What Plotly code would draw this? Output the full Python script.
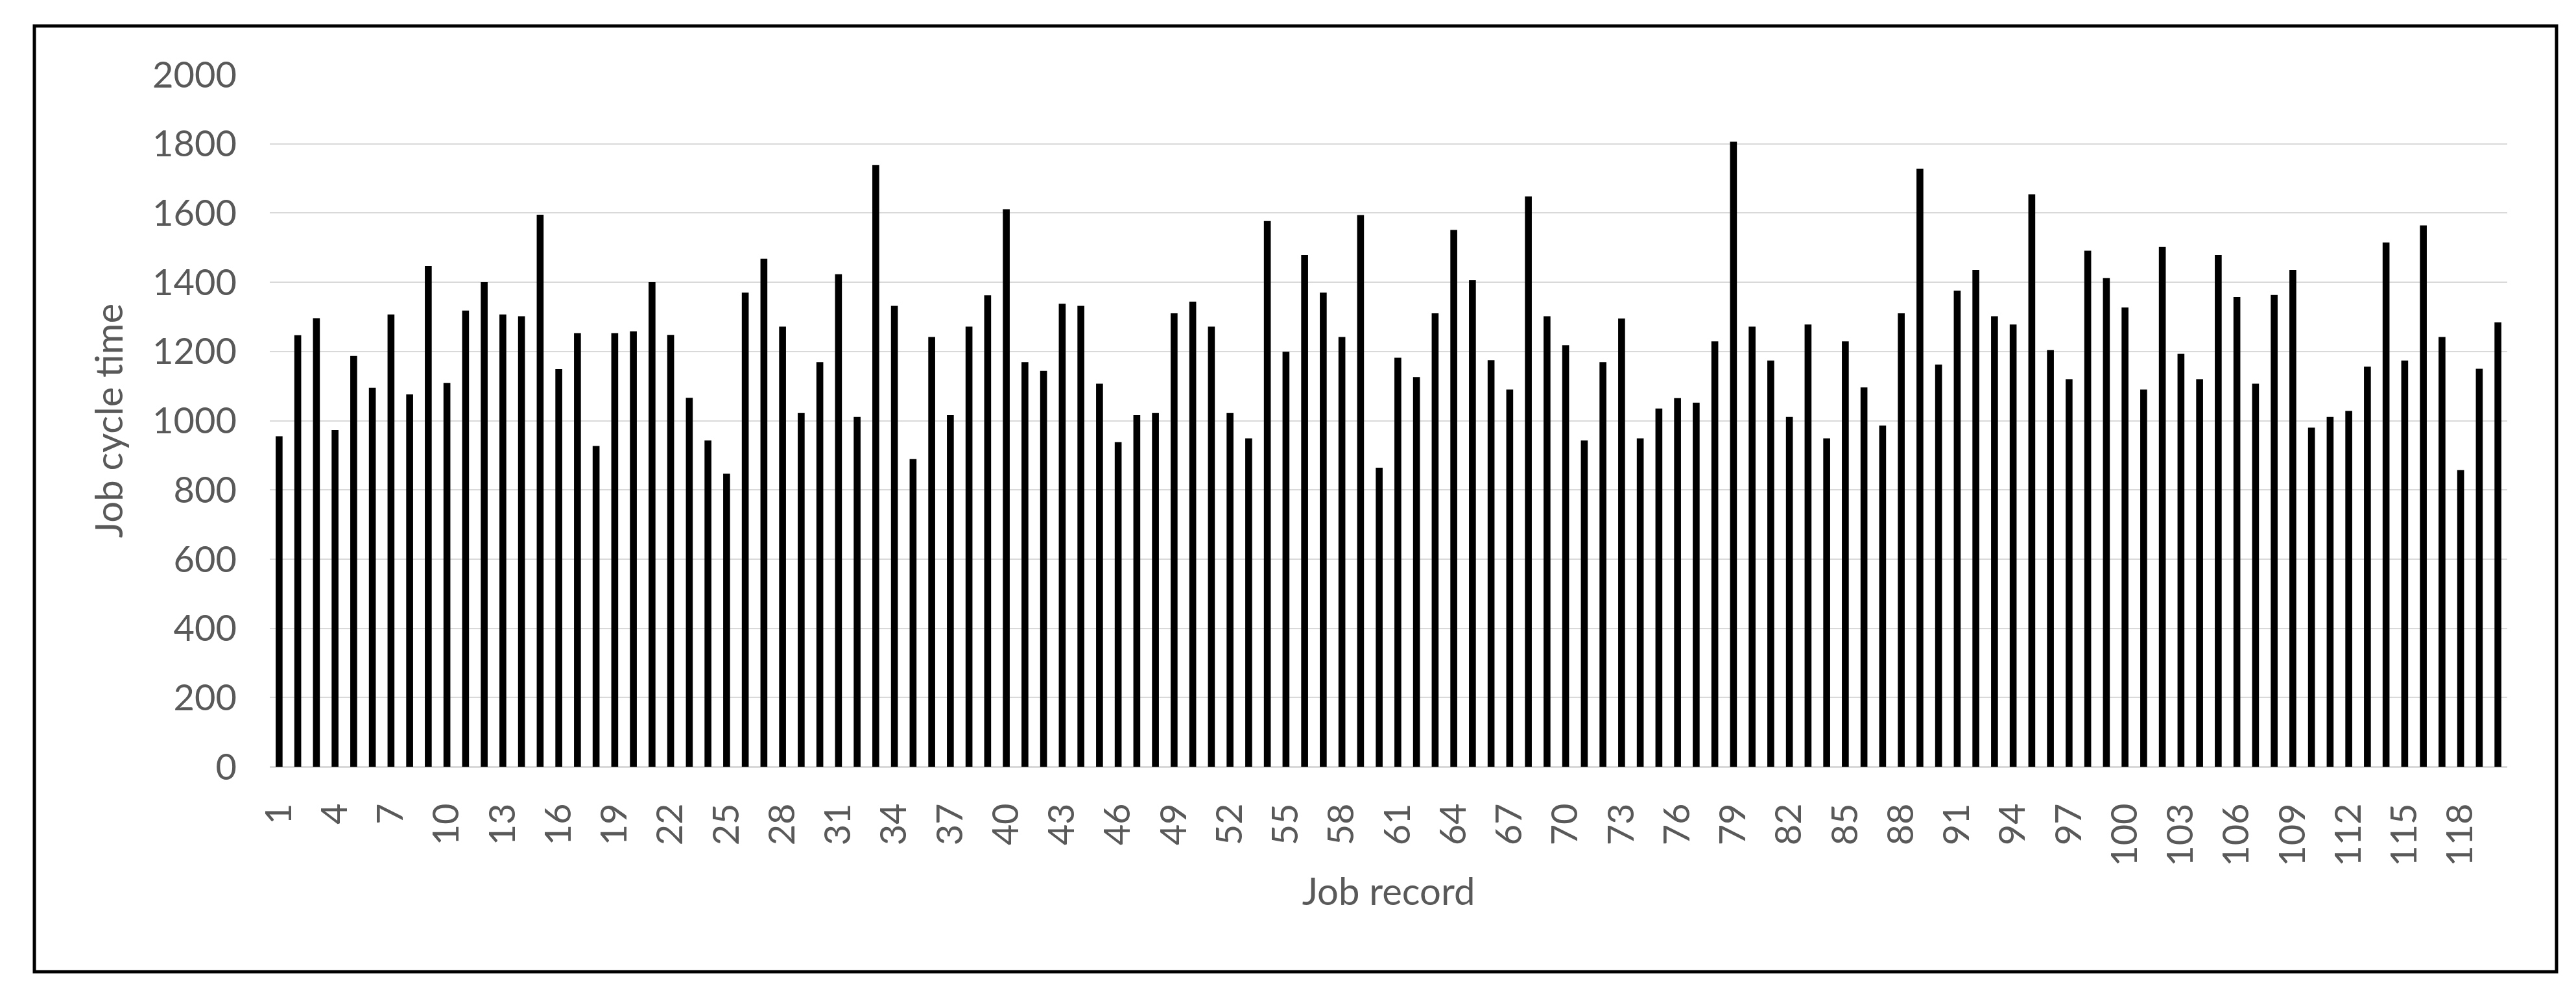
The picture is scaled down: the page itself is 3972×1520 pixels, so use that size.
import plotly.graph_objects as go

# Job cycle time per job record
job_records = list(range(1, 121))
cycle_times = [
    955, 1247, 1296, 973, 1187, 1095, 1307, 1076, 1447, 1109,
    1318, 1400, 1307, 1302, 1595, 1149, 1253, 927, 1253, 1258,
    1400, 1248, 1066, 943, 847, 1370, 1468, 1272, 1022, 1169,
    1423, 1011, 1739, 1332, 889, 1242, 1016, 1272, 1362, 1611,
    1169, 1144, 1338, 1332, 1107, 938, 1016, 1022, 1310, 1344,
    1272, 1022, 949, 1577, 1199, 1479, 1370, 1242, 1594, 864,
    1182, 1126, 1310, 1551, 1406, 1175, 1090, 1648, 1302, 1218,
    943, 1169, 1295, 949, 1035, 1065, 1052, 1229, 1806, 1272,
    1174, 1011, 1278, 949, 1229, 1096, 986, 1310, 1728, 1162,
    1376, 1436, 1302, 1278, 1654, 1204, 1120, 1491, 1412, 1327,
    1090, 1502, 1193, 1120, 1479, 1357, 1107, 1363, 1436, 980,
    1011, 1028, 1156, 1515, 1174, 1564, 1242, 857, 1150, 1284,
]
tick_records = job_records[::3]
y_ticks = [0, 200, 400, 600, 800, 1000, 1200, 1400, 1600, 1800, 2000]

W, H = 3972, 1520
# plot area in pixels
PL, PR, PT, PB = 408, 3858, 107, 1174
FONT = "Lato, Calibri, Liberation Sans, sans-serif"
GREY = "#595959"

fig = go.Figure()
fig.add_trace(go.Bar(
    x=[str(r) for r in job_records],
    y=cycle_times,
    marker=dict(color="black", line=dict(width=0)),
    showlegend=False,
))

# outer frame around the whole chart, converted from pixels to paper coords
fx0, fx1, fy0, fy1 = 45, 3934, 32, 1490
pw, ph = PR - PL, PB - PT
fig.add_shape(
    type="rect", xref="paper", yref="paper",
    x0=(fx0 - PL) / pw, x1=(fx1 - PL) / pw,
    y0=(PB - fy1) / ph, y1=(PB - fy0) / ph,
    line=dict(color="black", width=5),
    fillcolor="rgba(0,0,0,0)",
)

fig.update_layout(
    width=W, height=H,
    margin=dict(l=PL, r=W - PR, t=PT, b=H - PB, pad=0),
    paper_bgcolor="white",
    plot_bgcolor="white",
    bargap=0.63,
    font=dict(family=FONT, size=56, color=GREY),
    xaxis=dict(
        type="category",
        tickmode="array",
        tickvals=[str(r) for r in tick_records],
        ticktext=[str(r) for r in tick_records],
        tickangle=-90,
        ticks="",
        ticklabelstandoff=32,
        showgrid=False,
        showline=True,
        linecolor="#d9d9d9",
        linewidth=2,
        tickfont=dict(size=56, color=GREY),
        title=dict(text="Job record", font=dict(size=58, color=GREY), standoff=20),
    ),
    yaxis=dict(
        range=[0, 2000],
        tickvals=y_ticks,
        ticks="",
        ticklabelstandoff=50,
        showgrid=True,
        gridcolor="#d9d9d9",
        gridwidth=2,
        zeroline=True,
        zerolinecolor="#d9d9d9",
        zerolinewidth=2,
        showline=False,
        tickfont=dict(size=56, color=GREY),
        title=dict(text="Job cycle time", font=dict(size=58, color=GREY), standoff=26),
    ),
)

fig.write_html("out.html")
